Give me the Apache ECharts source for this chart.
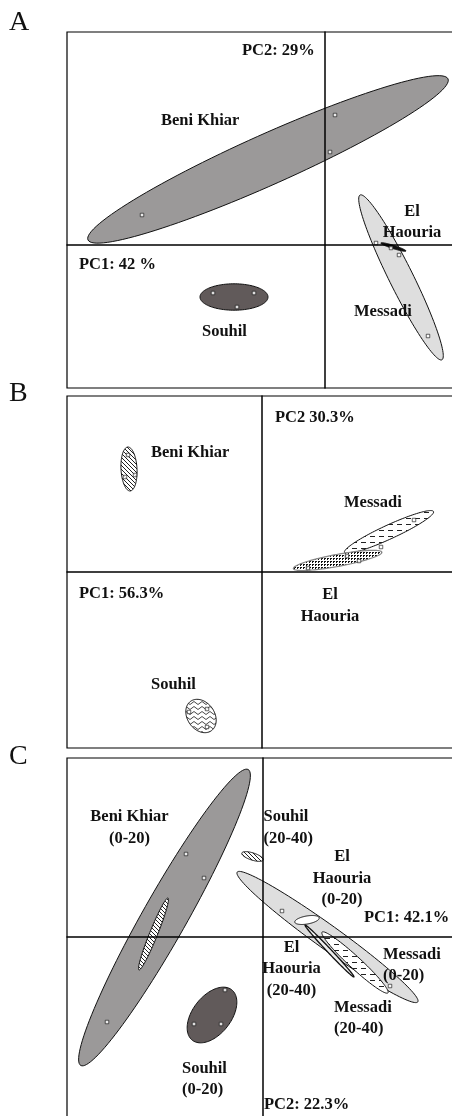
<!DOCTYPE html>
<html>
<head>
<meta charset="utf-8">
<script src="https://cdn.jsdelivr.net/npm/echarts@6/dist/echarts.min.js"></script>
<style>
  html, body { margin: 0; padding: 0; background: #fff; }
  #main { width: 452px; height: 1116px; }
</style>
</head>
<body>
<div id="main"></div>
<script>
// ellipse rows: [cx, cy, semiMajor, semiMinor, angleDeg] in PCA units
// panel A
const namesA = ['Beni Khiar', 'Souhil', 'Messadi', 'El Haouria'];
const ellA = [
  [-1.425, 2.14, 4.93, 0.63, 24.1],
  [-2.275, -1.3, 0.85, 0.33, 0],
  [1.9, -0.81, 2.3, 0.3, -63.6],
  [1.71, -0.05, 0.33, 0.04, -17.7]
];
const ptsA = [[0.25, 3.25], [0.125, 2.325], [-4.575, 0.75], [-2.8, -1.2], [-1.775, -1.2], [-2.2, -1.55],
  [1.275, 0.05], [1.65, -0.075], [1.85, -0.25], [2.575, -2.275]];
const labelsA = [
  ['PC2: 29%', -2.075, 4.85, 'left'],
  ['Beni Khiar', -4.1, 3.1, 'left'],
  ['El\nHaouria', 2.175, 0.575, 'center'],
  ['PC1: 42 %', -6.15, -0.5, 'left'],
  ['Souhil', -3.075, -2.175, 'left'],
  ['Messadi', 0.725, -1.675, 'left']
];

// panel B
const namesB = ['Beni Khiar', 'Messadi', 'El Haouria', 'Souhil'];
const ellB = [
  [-3.325, 2.575, 0.55, 0.2, 93],
  [3.175, 1.0, 1.225, 0.175, 24.7],
  [1.89, 0.29, 1.125, 0.15, 10.5],
  [-1.525, -3.6, 0.45, 0.34, -55]
];
const ptsB = [[-3.35, 2.925], [-3.175, 2.425], [-3.425, 2.375], [3.8, 1.3], [2.975, 0.625],
  [1.15, 0.1], [2.125, 0.4], [2.425, 0.275], [-1.825, -3.5], [-1.375, -3.425], [-1.375, -3.875]];
const labelsB = [
  ['PC2 30.3%', 0.325, 3.85, 'left'],
  ['Beni Khiar', -2.775, 2.975, 'left'],
  ['Messadi', 2.05, 1.725, 'left'],
  ['PC1: 56.3%', -4.575, -0.55, 'left'],
  ['El\nHaouria', 1.7, -0.8375, 'center'],
  ['Souhil', -2.775, -2.825, 'left']
];

// panel C
const namesC = ['Beni Khiar (0-20)', 'Beni Khiar (20-40)', 'Souhil (0-20)', 'Souhil (20-40)',
  'Messadi (0-20)', 'El Haouria (0-20)', 'El Haouria (20-40)', 'Messadi (20-40)'];
const ellC = [
  [-2.4625, 0.4875, 4.25, 0.55, 60.5],
  [-2.7375, 0.075, 0.97, 0.1, 68],
  [-1.275, -1.95, 0.8, 0.48, 52],
  [-0.2625, 2.0125, 0.28, 0.09, -18],
  [1.6125, 0.0, 2.78, 0.3, -35.7],
  [1.1, 0.425, 0.31, 0.1, 10],
  [1.6625, -0.35, 0.89, 0.05, -46.7],
  [2.3, -0.6375, 1.12, 0.15, -42.7]
];
const ptsC = [[-1.925, 2.075], [-1.475, 1.475], [-3.9, -2.125], [-0.95, -1.325], [-1.725, -2.175],
  [-1.05, -2.175], [0.475, 0.65], [3.175, -1.225]];
const labelsC = [
  ['Beni Khiar\n(0-20)', -3.3375, 2.7375, 'center'],
  ['Souhil\n(20-40)', 0.0125, 2.7375, 'left'],
  ['El\nHaouria\n(0-20)', 1.975, 1.4625, 'center'],
  ['PC1: 42.1%', 2.525, 0.475, 'left'],
  ['El\nHaouria\n(20-40)', 0.7125, -0.8, 'center'],
  ['Messadi\n(0-20)', 3.0, -0.7, 'left'],
  ['Messadi\n(20-40)', 1.775, -2.025, 'left'],
  ['Souhil\n(0-20)', -2.025, -3.55, 'left'],
  ['PC2: 22.3%', 0.025, -4.2, 'left']
];

// fill patterns drawn on small canvases
function pattern(kind) {
  const c = document.createElement('canvas');
  const ctx = c.getContext('2d');
  if (kind === 'hatch') {
    c.width = 4; c.height = 4;
    ctx.fillStyle = '#fff'; ctx.fillRect(0, 0, 4, 4);
    ctx.strokeStyle = '#222'; ctx.lineWidth = 1;
    ctx.beginPath(); ctx.moveTo(0, 0); ctx.lineTo(4, 4); ctx.moveTo(-1, 3); ctx.lineTo(1, 5); ctx.moveTo(3, -1); ctx.lineTo(5, 1); ctx.stroke();
  } else if (kind === 'dash') {
    c.width = 9; c.height = 6;
    ctx.fillStyle = '#fff'; ctx.fillRect(0, 0, 9, 6);
    ctx.fillStyle = '#222'; ctx.fillRect(1, 2, 5, 1);
  } else if (kind === 'dots') {
    c.width = 3; c.height = 3;
    ctx.fillStyle = '#fff'; ctx.fillRect(0, 0, 3, 3);
    ctx.fillStyle = '#111'; ctx.fillRect(0, 0, 2, 1); ctx.fillRect(0, 1, 1, 1);
  } else if (kind === 'wave') {
    c.width = 8; c.height = 5;
    ctx.fillStyle = '#fff'; ctx.fillRect(0, 0, 8, 5);
    ctx.strokeStyle = '#333'; ctx.lineWidth = 0.9;
    ctx.beginPath(); ctx.moveTo(0, 3); ctx.quadraticCurveTo(2, 0, 4, 3); ctx.quadraticCurveTo(6, 6, 8, 3); ctx.stroke();
  }
  return { image: c, repeat: 'repeat' };
}

const looks = {
  A: [
    { fill: '#9b9999', stroke: '#111', lw: 1 },
    { fill: '#615a5a', stroke: '#111', lw: 1 },
    { fill: '#dedede', stroke: '#111', lw: 1 },
    { fill: '#111', stroke: '#111', lw: 1 }
  ],
  B: [
    { fill: pattern('hatch'), stroke: '#111', lw: 1 },
    { fill: pattern('dash'), stroke: '#111', lw: 1 },
    { fill: pattern('dots'), stroke: '#888', lw: 1.2 },
    { fill: pattern('wave'), stroke: '#111', lw: 1 }
  ],
  C: [
    { fill: '#9b9999', stroke: '#111', lw: 1 },
    { fill: pattern('hatch'), stroke: '#111', lw: 1 },
    { fill: '#615a5a', stroke: '#111', lw: 1 },
    { fill: pattern('hatch'), stroke: '#111', lw: 1 },
    { fill: '#dedede', stroke: '#111', lw: 1 },
    { fill: '#fff', stroke: '#111', lw: 1 },
    { fill: '#eee', stroke: '#111', lw: 1.3 },
    { fill: pattern('dash'), stroke: '#111', lw: 1 }
  ]
};

const font = 'bold 16.5px "Liberation Serif", "Times New Roman", serif';

// grid boxes stop at the page edge; the frames are drawn separately so they can run past it
const panels = [
  { key: 'A', names: namesA, ell: ellA, pts: ptsA, labels: labelsA,
    grid: { left: 67, top: 32, width: 385, height: 356 }, x: [-6.45, 3.175], y: [-3.575, 5.325] },
  { key: 'B', names: namesB, ell: ellB, pts: ptsB, labels: labelsB,
    grid: { left: 67, top: 396, width: 385, height: 352 }, x: [-4.875, 4.75], y: [-4.4, 4.4] },
  { key: 'C', names: namesC, ell: ellC, pts: ptsC, labels: labelsC,
    grid: { left: 67, top: 758, width: 385, height: 358 }, x: [-4.9, 4.725], y: [-4.475, 4.475] }
];

const grids = [], xAxes = [], yAxes = [], series = [], frames = [];
const axisLine = { onZero: true, lineStyle: { color: '#000', width: 1.5 } };

panels.forEach((p, i) => {
  grids.push(Object.assign({ show: false }, p.grid));
  frames.push({ type: 'rect', z: 30, silent: true,
    shape: { x: p.grid.left, y: p.grid.top, width: p.grid.width + 20, height: i === 2 ? p.grid.height + 20 : p.grid.height },
    style: { fill: null, stroke: '#000', lineWidth: 1.2 } });
  xAxes.push({ type: 'value', gridIndex: i, min: p.x[0], max: p.x[1], z: 10,
    axisLine: axisLine, axisTick: { show: false }, axisLabel: { show: false }, splitLine: { show: false } });
  yAxes.push({ type: 'value', gridIndex: i, min: p.y[0], max: p.y[1], z: 10,
    axisLine: axisLine, axisTick: { show: false }, axisLabel: { show: false }, splitLine: { show: false } });

  series.push({
    type: 'custom', name: p.key + ' ellipses', xAxisIndex: i, yAxisIndex: i, z: 2,
    data: p.ell.map((e, k) => ({ name: p.names[k], value: e })),
    renderItem: function (params, api) {
      const cx = api.value(0), cy = api.value(1), a = api.value(2), b = api.value(3);
      const ang = api.value(4) * Math.PI / 180;
      const pts = [];
      for (let k = 0; k < 120; k++) {
        const t = k / 120 * Math.PI * 2;
        const ux = a * Math.cos(t), uy = b * Math.sin(t);
        pts.push(api.coord([cx + ux * Math.cos(ang) - uy * Math.sin(ang), cy + ux * Math.sin(ang) + uy * Math.cos(ang)]));
      }
      const look = looks[p.key][params.dataIndex];
      return { type: 'polygon', shape: { points: pts }, style: { fill: look.fill, stroke: look.stroke, lineWidth: look.lw } };
    }
  });

  series.push({
    type: 'scatter', xAxisIndex: i, yAxisIndex: i, z: 5, silent: true,
    symbol: 'rect', symbolSize: 3.5,
    itemStyle: { color: '#fff', borderColor: '#111', borderWidth: 0.8 },
    data: p.pts
  });

  series.push({
    type: 'custom', xAxisIndex: i, yAxisIndex: i, z: 20, silent: true,
    data: p.labels.map(l => [l[1], l[2]]),
    renderItem: function (params, api) {
      const l = p.labels[params.dataIndex];
      const pt = api.coord([api.value(0), api.value(1)]);
      return { type: 'text', x: pt[0], y: pt[1],
        style: { text: l[0], font: font, fill: '#111', align: l[3], verticalAlign: 'middle', lineHeight: 21.5 } };
    }
  });
});

const letterFont = '28px "Liberation Serif", serif';
const chart = echarts.init(document.getElementById('main'), null, { renderer: 'canvas' });
chart.setOption({
  animation: false,
  backgroundColor: '#fff',
  grid: grids,
  xAxis: xAxes,
  yAxis: yAxes,
  graphic: frames.concat([
    { type: 'text', left: 9, top: 9, style: { text: 'A', font: letterFont, fill: '#111' } },
    { type: 'text', left: 9, top: 380, style: { text: 'B', font: letterFont, fill: '#111' } },
    { type: 'text', left: 9, top: 743, style: { text: 'C', font: letterFont, fill: '#111' } }
  ]),
  series: series
});
</script>
</body>
</html>
